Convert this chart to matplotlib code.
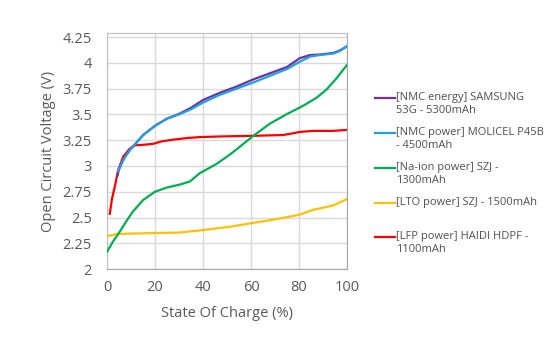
import matplotlib
matplotlib.use('Agg')
import matplotlib.pyplot as plt
from matplotlib.lines import Line2D

plt.rcParams['font.family'] = ['Open Sans', 'DejaVu Sans']

# state of charge (%) / open circuit voltage (V)
soc_samsung = [4.2, 5, 6.5, 8, 10, 12, 15, 20, 25, 30, 35, 40, 47, 54, 61, 68, 75, 80.3, 84.5, 88.6, 94.2, 97, 100]
ocv_samsung = [2.90, 2.97, 3.05, 3.11, 3.17, 3.22, 3.30, 3.39, 3.46, 3.505, 3.565, 3.64, 3.71, 3.77, 3.84, 3.90,
               3.96, 4.045, 4.075, 4.08, 4.095, 4.12, 4.16]

soc_molicel = [4.6, 5.5, 7, 8.5, 10, 12, 15, 20, 25, 30, 35, 40, 47, 54, 61, 68, 75, 80.3, 84.5, 88.6, 94.2, 97, 100]
ocv_molicel = [2.95, 3.00, 3.07, 3.12, 3.17, 3.22, 3.30, 3.39, 3.46, 3.50, 3.55, 3.615, 3.69, 3.75, 3.81, 3.875,
               3.94, 4.01, 4.06, 4.075, 4.09, 4.115, 4.16]

soc_naion = [0, 2.5, 5.3, 8, 10.8, 15, 19.9, 24.7, 30.3, 34.5, 38.6, 45.6, 51.1, 53.9, 60.8, 67.8, 74.7, 81.7,
             87.2, 91.4, 95.6, 100]
ocv_naion = [2.17, 2.27, 2.365, 2.465, 2.56, 2.67, 2.75, 2.79, 2.82, 2.85, 2.93, 3.02, 3.11, 3.16, 3.29, 3.41,
             3.50, 3.584, 3.66, 3.74, 3.85, 3.98]

soc_lto = [0, 3.9, 10, 20, 30, 38.6, 47, 51, 60.2, 70.6, 80, 85.8, 90, 94.2, 100]
ocv_lto = [2.32, 2.34, 2.345, 2.35, 2.355, 2.375, 2.40, 2.41, 2.446, 2.485, 2.527, 2.575, 2.595, 2.617, 2.68]

soc_lfp = [1.1, 2, 3.2, 4.6, 6.7, 9.5, 11.5, 15, 19.2, 23, 27.5, 33, 38.6, 47, 55, 62, 68, 73.3, 77, 80.3, 85.8,
           94, 100]
ocv_lfp = [2.536, 2.68, 2.80, 2.96, 3.09, 3.17, 3.20, 3.205, 3.215, 3.24, 3.255, 3.27, 3.28, 3.286, 3.29, 3.293,
           3.297, 3.30, 3.315, 3.33, 3.34, 3.34, 3.35]

labels = ['[NMC energy] SAMSUNG\n53G - 5300mAh',
          '[NMC power] MOLICEL P45B\n- 4500mAh',
          '[Na-ion power] SZJ -\n1300mAh',
          '[LTO power] SZJ - 1500mAh',
          '[LFP power] HAIDI HDPF -\n1100mAh']
colors = ['#7030A0', '#1EA0E6', '#00B050', '#FFC000', '#FF0000']

series = [(soc_samsung, ocv_samsung), (soc_molicel, ocv_molicel),
          (soc_naion, ocv_naion), (soc_lto, ocv_lto), (soc_lfp, ocv_lfp)]

fig = plt.figure(figsize=(5.58, 3.39), dpi=100)
ax = fig.add_axes([0.192, 0.206, 0.43, 0.697])

draw_order = [4, 3, 2, 0, 1]
for i in draw_order:
    x, y = series[i]
    ax.plot(x, y, color=colors[i], lw=1.6, solid_joinstyle='round', zorder=3)

ax.set_xlim(0, 100)
ax.set_ylim(2, 4.29)
ax.set_xticks([0, 20, 40, 60, 80, 100])
ax.set_yticks([2, 2.25, 2.5, 2.75, 3, 3.25, 3.5, 3.75, 4, 4.25])
ax.set_yticklabels(['2', '2.25', '2.5', '2.75', '3', '3.25', '3.5', '3.75', '4', '4.25'])
ax.grid(True, color='#D9D9D9', lw=1)
ax.set_axisbelow(True)
for s in ax.spines.values():
    s.set_color('#BFBFBF')
ax.spines['right'].set_color('#A6A6A6')
ax.spines['bottom'].set_color('#A6A6A6')
ax.tick_params(length=0, labelsize=10.5, colors='#595959')
ax.tick_params(axis='y', pad=11)
ax.tick_params(axis='x', pad=8)
ax.set_xlabel('State Of Charge (%)', fontsize=10.5, color='#595959', labelpad=8)
ax.set_ylabel('Open Circuit Voltage (V)', fontsize=10.5, color='#595959', labelpad=5)

# legend drawn by hand, Excel style
leg_y = [98, 133, 168, 203, 237]
for i, yy in enumerate(leg_y):
    yf = 1 - yy / 339
    fig.add_artist(Line2D([375 / 558, 395 / 558], [yf, yf], color=colors[i], lw=1.6))
    fig.text(396 / 558, 1 - (yy - 6) / 339, labels[i], fontsize=8, color='#505050', va='top',
             ha='left', linespacing=1.3, transform=fig.transFigure)

fig.savefig('out.png', dpi=100)
